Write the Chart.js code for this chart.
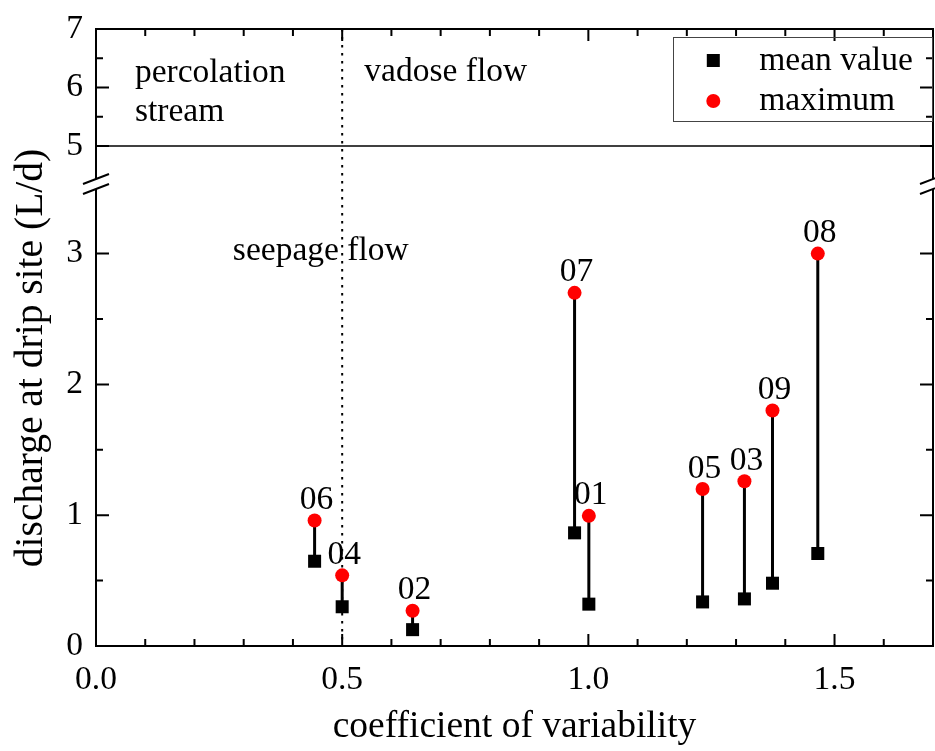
<!DOCTYPE html>
<html><head><meta charset="utf-8">
<script src="https://cdn.jsdelivr.net/npm/chart.js@4/dist/chart.umd.min.js"></script>
<style>html,body{margin:0;padding:0;background:#fff}#wrap{width:935px;height:751px}</style>
</head><body><div id="wrap"><canvas id="c" width="935" height="751"></canvas></div>
<script>
// ---- data ----
const siteIds    = ['06', '04', '02', '07', '01', '05', '03', '09', '08'];
const cvValues   = [0.444, 0.500, 0.643, 0.972, 1.001, 1.232, 1.317, 1.374, 1.466];
const meanValues = [0.648, 0.300, 0.125, 0.865, 0.320, 0.337, 0.360, 0.480, 0.707];
const maxValues  = [0.960, 0.540, 0.270, 2.700, 0.995, 1.200, 1.260, 1.800, 3.000];
const xTickValues = [0, 0.5, 1.0, 1.5];
const yLowerTicks = [0, 1, 2, 3];
const yUpperTicks = [5, 6, 7];
const seriesNames = ['mean value', 'maximum'];
const xTitle = 'coefficient of variability';
const yTitle = 'discharge at drip site (L/d)';

const FONT = '"Liberation Serif", "Times New Roman", Times, serif';
Chart.defaults.font.family = FONT;
Chart.defaults.color = '#000';

// markers may sit near the frame; do not let their size shrink the plot area
try {
  const SC = Chart.registry.getController('scatter');
  SC.prototype.getMaxOverflow = function () { return 0; };
} catch (e) {}

const meanPts = cvValues.map((x, i) => ({x: x, y: meanValues[i]}));
const maxPts  = cvValues.map((x, i) => ({x: x, y: maxValues[i]}));
const stemPts = [];
cvValues.forEach((x, i) => { stemPts.push({x: x, y: meanValues[i]}, {x: x, y: maxValues[i]}, {x: x, y: null}); });

function px(s, v) { return s.getPixelForValue(v); }
const TXT = 33.5;

const framePlugin = {
  id: 'frame',
  beforeDatasetsDraw(chart) {
    const ctx = chart.ctx, xs = chart.scales.x, yu = chart.scales.y2;
    const ca = chart.chartArea;
    ctx.save();
    ctx.strokeStyle = '#000';
    ctx.lineWidth = 2;
    ctx.setLineDash([2.5, 5.5]);
    const xd = px(xs, 0.5);
    ctx.beginPath(); ctx.moveTo(xd, ca.top); ctx.lineTo(xd, ca.bottom); ctx.stroke();
    ctx.setLineDash([]);
    ctx.lineWidth = 1.5;
    const y5 = px(yu, 5);
    ctx.beginPath(); ctx.moveTo(ca.left, y5); ctx.lineTo(ca.right, y5); ctx.stroke();
    ctx.restore();
  },
  afterDraw(chart) {
    const ctx = chart.ctx, xs = chart.scales.x, yl = chart.scales.y, yu = chart.scales.y2;
    const ca = chart.chartArea;
    const L = ca.left, R = ca.right, T = ca.top, B = ca.bottom;
    const brk = (yu.bottom + yl.top) / 2;
    ctx.save();
    ctx.strokeStyle = '#000';
    ctx.fillStyle = '#000';
    ctx.lineWidth = 2;
    ctx.lineCap = 'butt';
    ctx.beginPath();
    ctx.moveTo(L - 1, T); ctx.lineTo(R + 1, T);
    ctx.moveTo(L - 1, B); ctx.lineTo(R + 1, B);
    ctx.moveTo(L, T); ctx.lineTo(L, brk - 5);
    ctx.moveTo(L, brk + 5); ctx.lineTo(L, B);
    ctx.moveTo(R, T); ctx.lineTo(R, brk - 5);
    ctx.moveTo(R, brk + 5); ctx.lineTo(R, B);
    ctx.stroke();
    ctx.beginPath();
    [L, R].forEach(cx => {
      [-5, 5].forEach(dy => {
        ctx.moveTo(cx - 13, brk + dy + 5);
        ctx.lineTo(cx + 13, brk + dy - 5);
      });
    });
    ctx.stroke();
    ctx.beginPath();
    for (let k = 0; k <= 16; k++) {
      const v = k / 10;
      const len = (k % 5 === 0) ? 12 : 7;
      const p = px(xs, v);
      ctx.moveTo(p, B); ctx.lineTo(p, B - len);
      ctx.moveTo(p, T); ctx.lineTo(p, T + len);
    }
    yLowerTicks.forEach(v => { const p = px(yl, v); ctx.moveTo(L, p); ctx.lineTo(L + 13, p); ctx.moveTo(R, p); ctx.lineTo(R - 13, p); });
    [0.5, 1.5, 2.5].forEach(v => { const p = px(yl, v); ctx.moveTo(L, p); ctx.lineTo(L + 7, p); ctx.moveTo(R, p); ctx.lineTo(R - 7, p); });
    yUpperTicks.forEach(v => { const p = px(yu, v); ctx.moveTo(L, p); ctx.lineTo(L + 13, p); ctx.moveTo(R, p); ctx.lineTo(R - 13, p); });
    [5.5, 6.5].forEach(v => { const p = px(yu, v); ctx.moveTo(L, p); ctx.lineTo(L + 7, p); ctx.moveTo(R, p); ctx.lineTo(R - 7, p); });
    ctx.stroke();

    ctx.font = TXT + 'px ' + FONT;
    ctx.textBaseline = 'alphabetic';
    ctx.textAlign = 'left';
    ctx.fillText('percolation', px(xs, 0.079), px(yu, 6.10));
    ctx.fillText('stream', px(xs, 0.079), px(yu, 5.42));
    ctx.fillText('vadose flow', px(xs, 0.545), px(yu, 6.11));
    ctx.fillText('seepage flow', px(xs, 0.278), px(yl, 2.95));
    ctx.textAlign = 'center';
    siteIds.forEach((id, i) => {
      ctx.fillText(id, px(xs, cvValues[i]) + 2, px(yl, maxValues[i]) - 11.5);
    });
    ctx.font = '37.5px ' + FONT;
    ctx.fillText(xTitle, (L + R) / 2, 737);
    ctx.save();
    ctx.font = '39.5px ' + FONT;
    ctx.translate(42, 358);
    ctx.rotate(-Math.PI / 2);
    ctx.fillText(yTitle, 0, 0);
    ctx.restore();

    ctx.lineWidth = 1;
    ctx.strokeStyle = '#444';
    ctx.strokeRect(R - 260 + 0.5, T + 8 + 0.5, 259, 84);
    ctx.fillStyle = '#000';
    ctx.fillRect(R - 219.7 - 6.5, T + 31.5 - 6.5, 13, 13);
    ctx.fillStyle = '#ff0000';
    ctx.beginPath(); ctx.arc(R - 219.7, T + 72, 7, 0, Math.PI * 2); ctx.fill();
    ctx.fillStyle = '#000';
    ctx.font = TXT + 'px ' + FONT;
    ctx.textAlign = 'left';
    ctx.fillText(seriesNames[0], R - 173.7, T + 41);
    ctx.fillText(seriesNames[1], R - 173.7, T + 81);
    ctx.restore();
  }
};

const tickFont = {size: TXT, family: FONT};
const noPad = s => { s.paddingLeft = 0; s.paddingRight = 0; s.paddingTop = 0; s.paddingBottom = 0; };

new Chart(document.getElementById('c'), {
  type: 'scatter',
  data: {
    datasets: [
      {label: 'stems', data: stemPts, showLine: true, spanGaps: false, borderColor: '#000', borderWidth: 3,
       pointRadius: 0, pointHoverRadius: 0, yAxisID: 'y', order: 3},
      {label: seriesNames[0], data: meanPts, pointStyle: 'rect', pointRadius: 9.2, pointHoverRadius: 9.2,
       backgroundColor: '#000', borderWidth: 0, yAxisID: 'y', order: 2},
      {label: seriesNames[1], data: maxPts, pointStyle: 'circle', pointRadius: 7, pointHoverRadius: 7,
       backgroundColor: '#ff0000', borderWidth: 0, yAxisID: 'y', order: 1}
    ]
  },
  options: {
    responsive: false,
    animation: false,
    events: [],
    layout: {padding: {top: 29, right: 2, left: 0, bottom: 0}},
    plugins: {legend: {display: false}, tooltip: {enabled: false}},
    scales: {
      x: {
        type: 'linear', position: 'bottom', min: 0, max: 1.7,
        grid: {display: false, drawTicks: false}, border: {display: false},
        afterBuildTicks: s => { s.ticks = xTickValues.map(v => ({value: v})); },
        afterFit: s => { s.height = 105; noPad(s); },
        ticks: {font: tickFont, padding: 14, maxRotation: 0, callback: v => Number(v).toFixed(1)}
      },
      y: {
        type: 'linear', position: 'left', min: 0, max: 3.532,
        stack: 'yy', stackWeight: 462,
        grid: {display: false, drawTicks: false}, border: {display: false},
        afterBuildTicks: s => { s.ticks = yLowerTicks.map(v => ({value: v})); },
        afterFit: s => { s.width = 96; noPad(s); },
        ticks: {font: tickFont, padding: 13, callback: v => String(v)}
      },
      y2: {
        type: 'linear', position: 'left', min: 4.35, max: 7,
        stack: 'yy', stackWeight: 155,
        grid: {display: false, drawTicks: false}, border: {display: false},
        afterBuildTicks: s => { s.ticks = yUpperTicks.map(v => ({value: v})); },
        afterFit: s => { s.width = 96; noPad(s); },
        ticks: {font: tickFont, padding: 13, callback: v => String(v)}
      }
    }
  },
  plugins: [framePlugin]
});
</script>
</body></html>
